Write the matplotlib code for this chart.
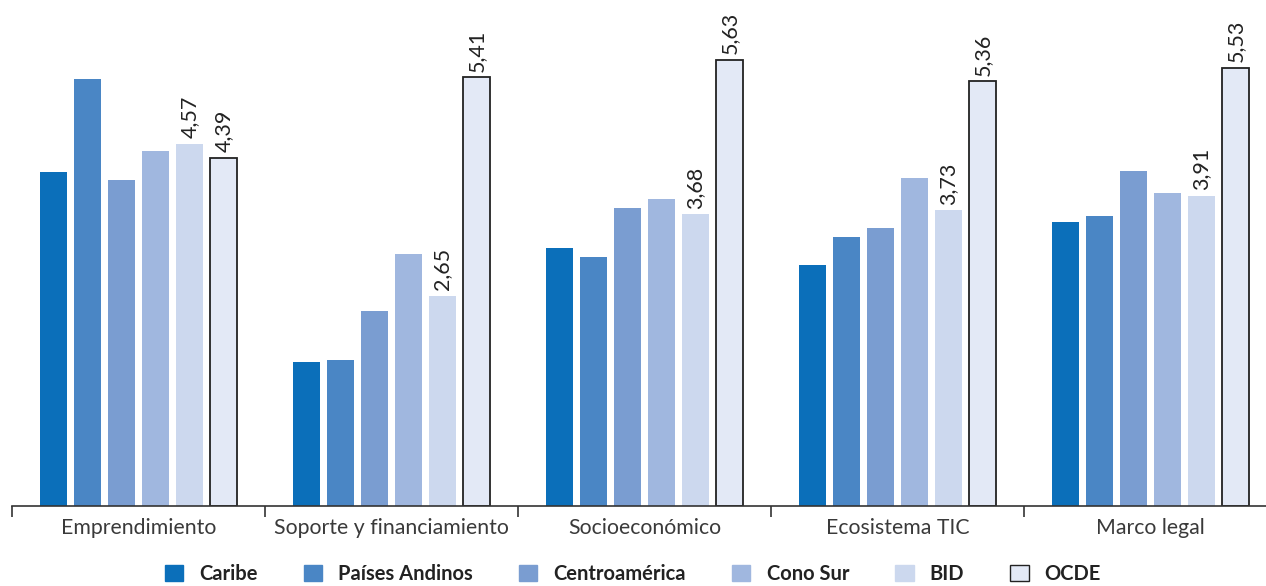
import matplotlib.pyplot as plt
import numpy as np
from matplotlib.patches import Patch

categories = ["Emprendimiento", "Soporte y financiamiento", "Socioeconómico",
              "Ecosistema TIC", "Marco legal"]
series_names = ["Caribe", "Países Andinos", "Centroamérica", "Cono Sur", "BID", "OCDE"]
caribe = [4.21, 1.82, 3.25, 3.04, 3.58]
andinos = [5.39, 1.84, 3.14, 3.39, 3.66]
centro = [4.11, 2.46, 3.76, 3.51, 4.23]
cono_sur = [4.48, 3.18, 3.87, 4.14, 3.95]
bid = [4.57, 2.65, 3.68, 3.73, 3.91]
ocde = [4.39, 5.41, 5.63, 5.36, 5.53]
labelled = {"BID": bid, "OCDE": ocde}

colors = ["#0b6fba", "#4a86c5", "#7a9dd1", "#a0b7df", "#ccd8ee", "#e3e9f6"]
series = [caribe, andinos, centro, cono_sur, bid, ocde]

plt.rcParams['font.family'] = ['Lato', 'DejaVu Sans']

fig = plt.figure(figsize=(12.66, 5.86), dpi=100)
ax = fig.add_axes([12 / 1266, 80 / 586, 1265 / 1266, 506 / 586])

x = np.arange(len(categories))
step = 34 / 253
width = 27 / 253
for i, (name, vals) in enumerate(zip(series_names, series)):
    pos = x + (i - 2.5) * step
    edge = "#222222" if name == "OCDE" else "none"
    ax.bar(pos, vals, width, color=colors[i], edgecolor=edge,
           linewidth=1.3 if name == "OCDE" else 0, zorder=2)
    if name in labelled:
        for p, v in zip(pos, vals):
            ax.text(p, v + 0.07, f"{v:.2f}".replace(".", ","), rotation=90,
                    ha="center", va="bottom", fontsize=15.5, color="#222222")

ax.set_xlim(-0.5, 4.5)
ax.set_ylim(0, 6.383)
ax.set_yticks([])
for s in ["top", "right", "left"]:
    ax.spines[s].set_visible(False)
ax.spines["bottom"].set_color("#333333")
ax.spines["bottom"].set_linewidth(1.2)
ax.set_xticks(x - 0.5, minor=False)
ax.set_xticklabels([])
ax.tick_params(axis="x", length=8, width=1.2, color="#333333", direction="out")
ax.set_xticks(x, minor=True)
ax.set_xticklabels(categories, minor=True)
ax.tick_params(axis="x", which="minor", length=0, pad=9, labelsize=15.3,
               labelcolor="#3a3a3a")

handles = [Patch(facecolor=c, edgecolor=("#222222" if n == "OCDE" else c),
                 linewidth=1.0) for c, n in zip(colors, series_names)]
fig.legend(handles, series_names, loc="center", bbox_to_anchor=(0.5, 12 / 586),
           ncol=6, frameon=False, handlelength=0.9, handleheight=0.9,
           handletextpad=0.8, columnspacing=2.3,
           prop={"size": 14.5, "weight": "bold"}, labelcolor="#222222")

fig.savefig("out.png", dpi=100)
